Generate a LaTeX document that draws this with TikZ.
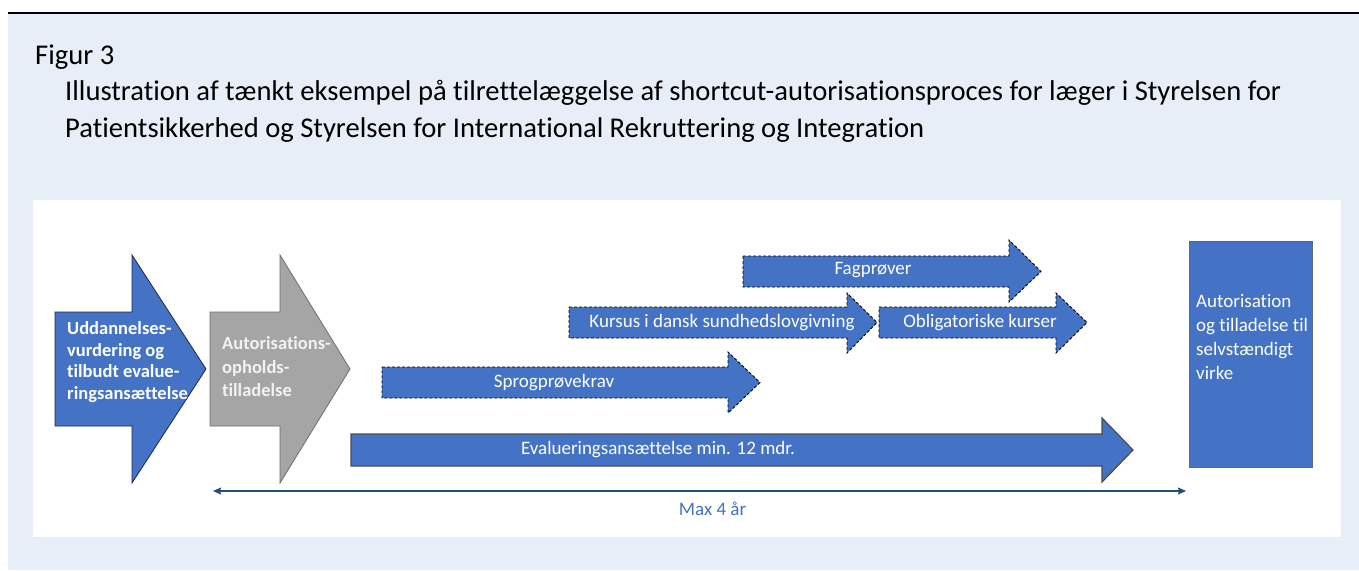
\documentclass[tikz,border=0pt]{standalone}
\usepackage{fontspec}
\setmainfont{Carlito}[Ligatures=NoCommon]
\usetikzlibrary{arrows.meta}
\definecolor{bgblue}{RGB}{232,238,247}
\definecolor{fillblue}{RGB}{68,114,196}
\definecolor{fillgray}{RGB}{165,165,165}
\definecolor{darkteal}{RGB}{31,78,121}
\definecolor{edgeblue}{RGB}{30,40,70}
\definecolor{edgegray}{RGB}{110,110,110}
\definecolor{boxedge}{RGB}{90,105,130}
\definecolor{graytext}{RGB}{242,242,242}
\tikzset{
  solidblue/.style={fill=fillblue, draw=edgeblue, line width=0.8pt, line join=miter},
  solidgray/.style={fill=fillgray, draw=edgegray, line width=0.8pt, line join=miter},
  dashblue/.style={fill=fillblue, draw=black, line width=0.9pt, dash pattern=on 3pt off 2pt},
  evalblue/.style={fill=fillblue, draw=black!70, line width=1.2pt},
  boxblue/.style={fill=fillblue, draw=boxedge, line width=0.8pt},
  titletext/.style={anchor=base west, inner sep=0pt, font=\fontsize{28.6}{34}\selectfont},
  boldlabel/.style={anchor=west, inner sep=0pt, align=left, text=white},
  plainlabel/.style={inner sep=0pt, text=white, font=\fontsize{19}{22}\selectfont},
  maxline/.style={draw=darkteal, line width=1.3pt, {Stealth[length=8pt,width=7pt,inset=1pt]}-{Stealth[length=8pt,width=7pt,inset=1pt]}}
}
\begin{document}
\begin{tikzpicture}[x=1pt,y=-1pt]
\useasboundingbox (0,0) rectangle (1359,570);
\fill[white] (0,0) rectangle (1359,570);
\fill[bgblue] (8,14) rectangle (1359,570);
\draw[line width=1.5pt] (8,13) -- (1359,13);
\fill[white] (33,200) rectangle (1341,537);

% title
\node[titletext] (fig) at (35,64) {Figur 3};
\node[titletext] (t1) at (65,100) {Illustration af tænkt eksempel på tilrettelæggelse af shortcut-autorisationsproces for læger i Styrelsen for};
\node[titletext] (t2) at (65,137) {Patientsikkerhed og Styrelsen for International Rekruttering og Integration};

% big arrows
\draw[solidblue] (55,312) -- (132,312) -- (132,255) -- (206,369) -- (132,483) -- (132,426) -- (55,426) -- cycle;
\node[boldlabel, font=\fontsize{18.5}{21.7}\selectfont\bfseries] (a1) at (67,362)
  {Uddannelses-\\vurdering og\\tilbudt evalue-\\ringsansættelse};
\draw[solidgray] (210,312) -- (280,312) -- (280,255) -- (350,369) -- (280,483) -- (280,426) -- (210,426) -- cycle;
\node[boldlabel, text=graytext, font=\fontsize{18.5}{23.5}\selectfont\bfseries] (a2) at (222,367)
  {Autorisations-\\opholds-\\tilladelse};

% dashed arrows
\draw[dashblue] (382,367) -- (728,367) -- (728,352) -- (760,382.5) -- (728,413) -- (728,398) -- (382,398) -- cycle;
\node[plainlabel] (sp) at (554,383) {Sprogprøvekrav};
\draw[dashblue] (569,307) -- (847,307) -- (847,293) -- (877,322.5) -- (847,353) -- (847,338) -- (569,338) -- cycle;
\node[plainlabel] (ku) at (722,323) {Kursus i dansk sundhedslovgivning};
\draw[dashblue] (879,307) -- (1056,307) -- (1056,293) -- (1087,322.5) -- (1056,353) -- (1056,338) -- (879,338) -- cycle;
\node[plainlabel] (ob) at (980,323) {Obligatoriske kurser};
\draw[dashblue] (743,256) -- (1009,256) -- (1009,240) -- (1041,271.5) -- (1009,302) -- (1009,287) -- (743,287) -- cycle;
\node[plainlabel] (fa) at (873,270) {Fagprøver};

% evaluation arrow
\draw[evalblue] (351,434) -- (1102,434) -- (1102,418) -- (1133,450) -- (1102,482) -- (1102,466) -- (351,466) -- cycle;
\node[plainlabel] (ev) at (658,450) {Evalueringsansættelse min. 12 mdr.};

% final box
\draw[boxblue] (1189,241) rectangle (1312,467);
\node[anchor=west, inner sep=0pt, align=left, text=white, font=\fontsize{19}{24}\selectfont] (au) at (1196,337)
  {Autorisation\\og tilladelse til\\selvstændigt\\virke};

% max 4 år
\coordinate (ml) at (213,491);
\coordinate (mr) at (1186,491);
\draw[maxline] (ml) -- (mr);
\node[inner sep=0pt, text=fillblue, font=\fontsize{19}{22}\selectfont] (mx) at (712.5,509) {Max 4 år};
\end{tikzpicture}
\end{document}
